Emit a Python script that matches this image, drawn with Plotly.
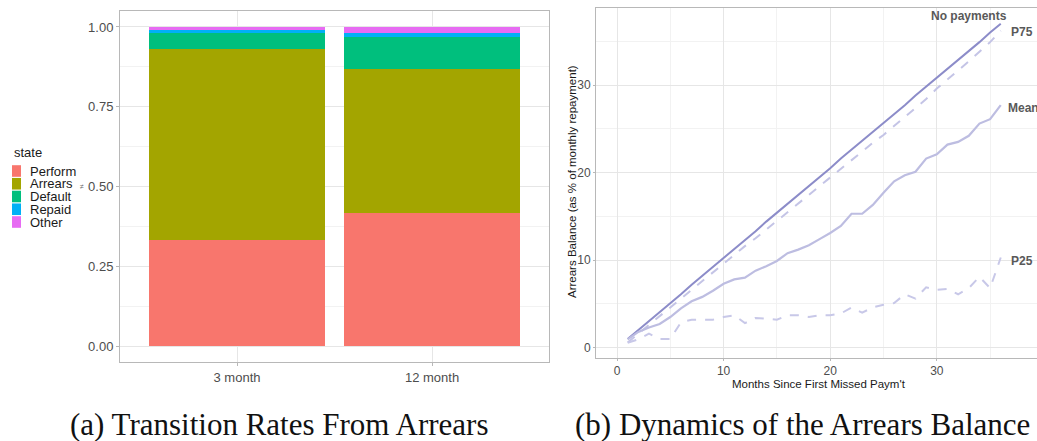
import plotly.graph_objects as go

# ---- Panel (a): transition shares out of arrears ----
horizons = ["3 month", "12 month"]
states = ["Perform", "Arrears", "Default", "Repaid", "Other"]
perform = [0.331, 0.416]
arrears = [0.600, 0.453]
default = [0.051, 0.098]
repaid = [0.009, 0.014]
other = [0.009, 0.019]
state_colors = ["#F8766D", "#A3A500", "#00BF7D", "#00B0F6", "#E76BF3"]

# ---- Panel (b): arrears balance by months since first missed payment ----
months = list(range(1, 37))
no_payments = [1.0, 2.0, 3.1, 4.1, 5.1, 6.1, 7.2, 8.2, 9.2, 10.3, 11.3, 12.3,
               13.3, 14.4, 15.4, 16.4, 17.5, 18.5, 19.5, 20.5, 21.6, 22.6, 23.6, 24.7,
               25.7, 26.7, 27.7, 28.8, 29.8, 30.8, 31.9, 32.9, 33.9, 34.9, 36.0, 37.0]
p75 = [0.6, 1.6, 2.6, 3.6, 4.7, 5.7, 6.7, 7.7, 8.7, 9.6, 10.6, 11.6,
       12.5, 13.5, 14.4, 15.4, 16.4, 17.4, 18.4, 19.4, 20.4, 21.4, 22.4, 23.4,
       24.3, 25.3, 26.3, 27.3, 28.4, 29.6, 30.6, 31.6, 32.7, 33.8, 34.9, 36.2]
mean = [0.95, 1.8, 2.3, 2.7, 3.5, 4.5, 5.3, 5.8, 6.5, 7.3, 7.8, 8.0,
        8.8, 9.3, 9.9, 10.8, 11.2, 11.7, 12.4, 13.1, 13.9, 15.3, 15.3, 16.3,
        17.7, 19.0, 19.7, 20.1, 21.6, 22.1, 23.2, 23.5, 24.2, 25.6, 26.1, 27.7]
p25 = [0.57, 0.95, 1.6, 1.0, 1.0, 2.9, 3.2, 3.2, 3.2, 3.5, 3.7, 2.8,
       3.4, 3.3, 3.2, 3.7, 3.7, 3.5, 3.7, 3.7, 3.9, 4.6, 4.0, 4.6,
       4.9, 5.1, 6.1, 5.6, 6.9, 6.6, 6.7, 6.1, 6.8, 8.1, 6.8, 10.3]
series_labels = [("No payments", 33.0, 37.9), ("P75", 38.0, 36.1),
                 ("Mean", 38.1, 27.4), ("P25", 38.0, 9.9)]

W, H = 1037, 441
SANS = "Liberation Sans, Arial, sans-serif"
SERIF = "Liberation Serif, serif"
GRID = "#e6e6e6"
MINOR = "#f2f2f2"
BORDER = "#b8b8b8"
TICKTXT = "#4d4d4d"

fig = go.Figure()

for name, vals, col in zip(states, [perform, arrears, default, repaid, other], state_colors):
    fig.add_trace(go.Bar(x=horizons, y=vals, name=name, marker=dict(color=col, line=dict(width=0)),
                         width=0.9, xaxis="x", yaxis="y", showlegend=False))

fig.add_trace(go.Scatter(x=months, y=no_payments, mode="lines", xaxis="x2", yaxis="y2",
                         line=dict(color="#8c8cc9", width=2), showlegend=False))
fig.add_trace(go.Scatter(x=months, y=p75, mode="lines", xaxis="x2", yaxis="y2",
                         line=dict(color="#c4c4e6", width=2, dash="dash"), showlegend=False))
fig.add_trace(go.Scatter(x=months, y=mean, mode="lines", xaxis="x2", yaxis="y2",
                         line=dict(color="#bdbde1", width=2.2), showlegend=False))
fig.add_trace(go.Scatter(x=months, y=p25, mode="lines", xaxis="x2", yaxis="y2",
                         line=dict(color="#c8c8e8", width=2, dash="dash"), showlegend=False))

def px(x):
    return x / W

def py(y):
    return 1 - y / H

annotations = []
shapes = []

# compact key for the state fill colours
annotations.append(dict(text="state", x=px(12), y=py(153), xref="paper", yref="paper",
                        xanchor="left", yanchor="middle", showarrow=False,
                        font=dict(family=SANS, size=13, color="#1a1a1a")))
for i, (name, col) in enumerate(zip(states, state_colors)):
    yc = 171 + i * 12.75
    shapes.append(dict(type="rect", xref="paper", yref="paper", x0=px(12), x1=px(21),
                       y0=py(yc - 5.8), y1=py(yc + 5.8), fillcolor=col, line=dict(width=0)))
    annotations.append(dict(text=name, x=px(28), y=py(yc), xref="paper", yref="paper",
                            xanchor="left", yanchor="middle", showarrow=False,
                            font=dict(family=SANS, size=13, color="#1a1a1a")))

# tiny y-axis title glyph of panel (a)
annotations.append(dict(text="≠", x=px(82), y=py(187), xref="paper", yref="paper",
                        xanchor="center", yanchor="middle", showarrow=False,
                        font=dict(family=SANS, size=7, color="#666666")))

for text, lx, ly in series_labels:
    annotations.append(dict(text="<b>" + text + "</b>", x=lx, y=ly, xref="x2", yref="y2",
                            xanchor="center", yanchor="middle", showarrow=False,
                            font=dict(family=SANS, size=12, color="#595959")))

# panel captions
annotations.append(dict(text="(a) Transition Rates From Arrears", x=px(279), y=py(424),
                        xref="paper", yref="paper", xanchor="center", yanchor="middle",
                        showarrow=False, font=dict(family=SERIF, size=31, color="#111")))
annotations.append(dict(text="(b) Dynamics of the Arrears Balance", x=px(802), y=py(424),
                        xref="paper", yref="paper", xanchor="center", yanchor="middle",
                        showarrow=False, font=dict(family=SERIF, size=31, color="#111")))

# axis titles for panel (b)
annotations.append(dict(text="Months Since First Missed Paym't", x=px(819), y=py(384),
                        xref="paper", yref="paper", xanchor="center", yanchor="middle",
                        showarrow=False, font=dict(family=SANS, size=11.5, color="#1a1a1a")))
annotations.append(dict(text="Arrears Balance (as % of monthly repayment)", x=px(572), y=py(182),
                        xref="paper", yref="paper", xanchor="center", yanchor="middle",
                        textangle=-90, showarrow=False,
                        font=dict(family=SANS, size=11.5, color="#1a1a1a")))

fig.update_layout(
    width=W, height=H,
    margin=dict(l=0, r=0, t=0, b=0),
    paper_bgcolor="white", plot_bgcolor="white",
    barmode="stack", bargap=0.1,
    annotations=annotations, shapes=shapes,
    xaxis=dict(domain=[px(120), px(549)], range=[-0.6, 1.6], type="category",
               showgrid=True, gridcolor=GRID, gridwidth=1,
               showline=True, mirror=True, linecolor=BORDER, linewidth=1,
               ticks="outside", ticklen=3, tickcolor=BORDER, zeroline=False,
               tickfont=dict(family=SANS, size=13, color=TICKTXT)),
    yaxis=dict(domain=[py(362), py(11)], range=[-0.05, 1.05],
               tickvals=[0, 0.25, 0.5, 0.75, 1.0], tickformat=".2f",
               showgrid=True, gridcolor=GRID, gridwidth=1,
               minor=dict(tickvals=[0.125, 0.375, 0.625, 0.875], showgrid=True,
                          gridcolor=MINOR, gridwidth=1, ticks=""),
               showline=True, mirror=True, linecolor=BORDER, linewidth=1,
               ticks="outside", ticklen=3, tickcolor=BORDER, zeroline=False,
               tickfont=dict(family=SANS, size=13, color=TICKTXT)),
    xaxis2=dict(domain=[px(596), 1.0], range=[-1.97, 39.4], anchor="y2",
                tickvals=[0, 10, 20, 30],
                showgrid=True, gridcolor=GRID, gridwidth=1,
                minor=dict(tickvals=[5, 15, 25, 35], showgrid=True,
                           gridcolor=MINOR, gridwidth=1, ticks=""),
                showline=True, mirror=True, linecolor=BORDER, linewidth=1,
                ticks="outside", ticklen=2, tickcolor=BORDER, zeroline=False,
                tickfont=dict(family=SANS, size=12, color=TICKTXT)),
    yaxis2=dict(domain=[py(358), py(8)], range=[-1.18, 38.8], anchor="x2",
                tickvals=[0, 10, 20, 30],
                showgrid=True, gridcolor=GRID, gridwidth=1,
                minor=dict(tickvals=[5, 15, 25, 35], showgrid=True,
                           gridcolor=MINOR, gridwidth=1, ticks=""),
                showline=True, mirror=False, linecolor=BORDER, linewidth=1,
                ticks="outside", ticklen=2, tickcolor=BORDER, zeroline=False,
                tickfont=dict(family=SANS, size=12, color=TICKTXT)),
)

fig.write_html("out.html")
